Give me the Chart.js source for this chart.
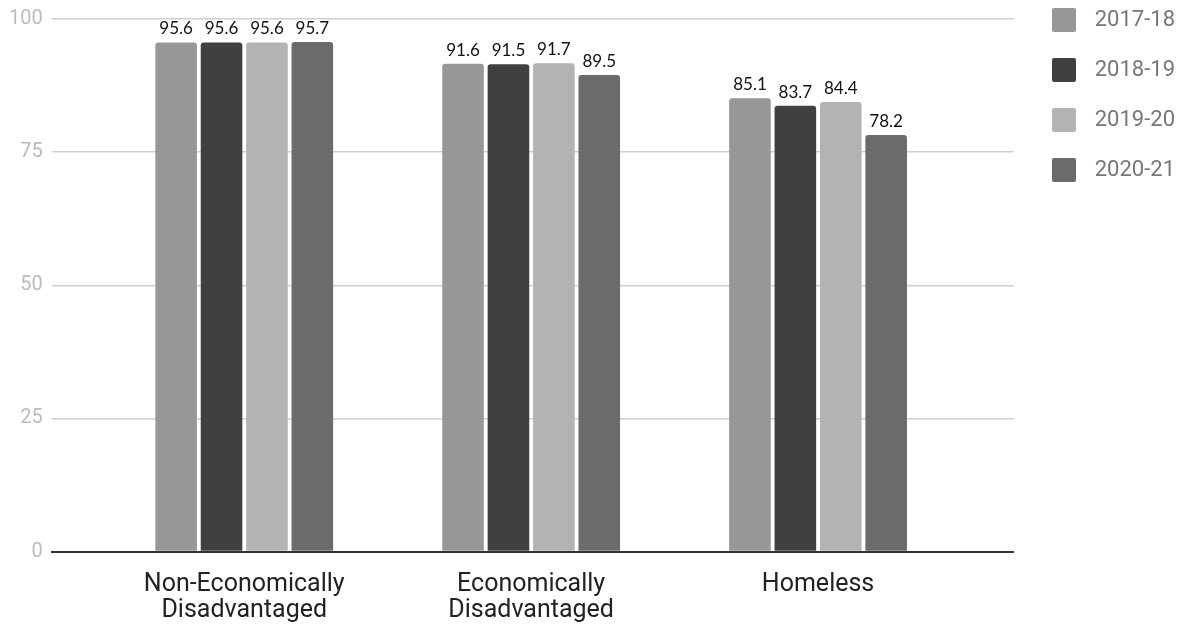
<!DOCTYPE html>
<html>
<head>
<meta charset="utf-8">
<script src="https://cdn.jsdelivr.net/npm/chart.js@4/dist/chart.umd.min.js"></script>
<style>
  html, body { margin: 0; padding: 0; background: #fff; }
  #wrap { width: 1183px; height: 628px; }
</style>
</head>
<body>
<div id="wrap"><canvas id="myChart"></canvas></div>
<script>
let categories = [["Non-Economically", "Disadvantaged"], ["Economically", "Disadvantaged"], "Homeless"];
let years = ["2017-18", "2018-19", "2019-20", "2020-21"];
let y1718 = [95.6, 91.6, 85.1];
let y1819 = [95.6, 91.5, 83.7];
let y1920 = [95.6, 91.7, 84.4];
let y2021 = [95.7, 89.5, 78.2];
let yTicks = [0, 25, 50, 75, 100];
let colors = ["#979797", "#404040", "#b3b3b3", "#6b6b6b"];

let series = [y1718, y1819, y1920, y2021];

// values over the bars
const barLabels = {
	id: "barLabels",
	afterDatasetsDraw(chart) {
		const ctx = chart.ctx;
		ctx.save();
		ctx.font = "17px Lato";
		ctx.fillStyle = "#111";
		ctx.textAlign = "center";
		ctx.textBaseline = "bottom";
		chart.data.datasets.forEach((ds, i) => {
			chart.getDatasetMeta(i).data.forEach((bar, j) => {
				ctx.fillText(ds.data[j].y.toFixed(1), bar.x, bar.y - 5);
			});
		});
		ctx.restore();
	}
};

// nudge the legend into place
const legendShift = {
	id: "legendShift",
	afterLayout(chart) {
		const l = chart.legend;
		const dy = 8 - (l.top + 26);
		l.top += dy;
		l.bottom += dy;
		l.left = 1052 - 26;
		l.right = 1175;
	}
};

function makeGraph(){
	let chart = new Chart("myChart", {
		type: "bar",
		data: {
			datasets: years.map((y, i) => ({
				label: y,
				data: series[i].map((v, j) => ({x: j, y: v})),
				backgroundColor: colors[i],
				borderRadius: {topLeft: 3, topRight: 3},
				borderSkipped: "bottom",
				categoryPercentage: 0.633,
				barPercentage: 0.916
			}))
		},
		plugins: [barLabels, legendShift],
		options: {
			responsive: true,
			maintainAspectRatio: false,
			animation: false,
			layout: { padding: { top: 0, right: 18, bottom: -8, left: 0 } },
			plugins: {
				tooltip: { enabled: false },
				legend: {
					display: true,
					position: "right",
					align: "start",
					labels: {
						boxWidth: 24,
						boxHeight: 24,
						padding: 26,
						color: "#777",
						textAlign: "right",
						useBorderRadius: true,
						borderRadius: 2,
						font: { family: "Roboto", size: 22 }
					}
				}
			},
			scales: {
				x: {
					type: "linear",
					offset: false,
					min: -0.671,
					max: 2.682,
					afterBuildTicks: (axis) => { axis.ticks = categories.map((c, i) => ({value: i})); },
					grid: { display: false },
					border: { display: true, color: "#333", width: 2 },
					ticks: {
						color: "#222",
						padding: 12,
						font: { family: "Roboto", size: 25, lineHeight: 1.05 },
						callback: (v) => categories[v]
					}
				},
				y: {
					min: 0,
					max: 100,
					afterBuildTicks: (axis) => { axis.ticks = yTicks.map(v => ({value: v})); },
					grid: { color: "#cfcfcf", lineWidth: 1.5, drawTicks: false },
					border: { display: false },
					ticks: {
						color: "#bbb",
						padding: 9,
						font: { family: "Roboto", size: 20, lineHeight: 1 }
					}
				}
			}
		}
	});
}

makeGraph();
</script>
</body>
</html>
